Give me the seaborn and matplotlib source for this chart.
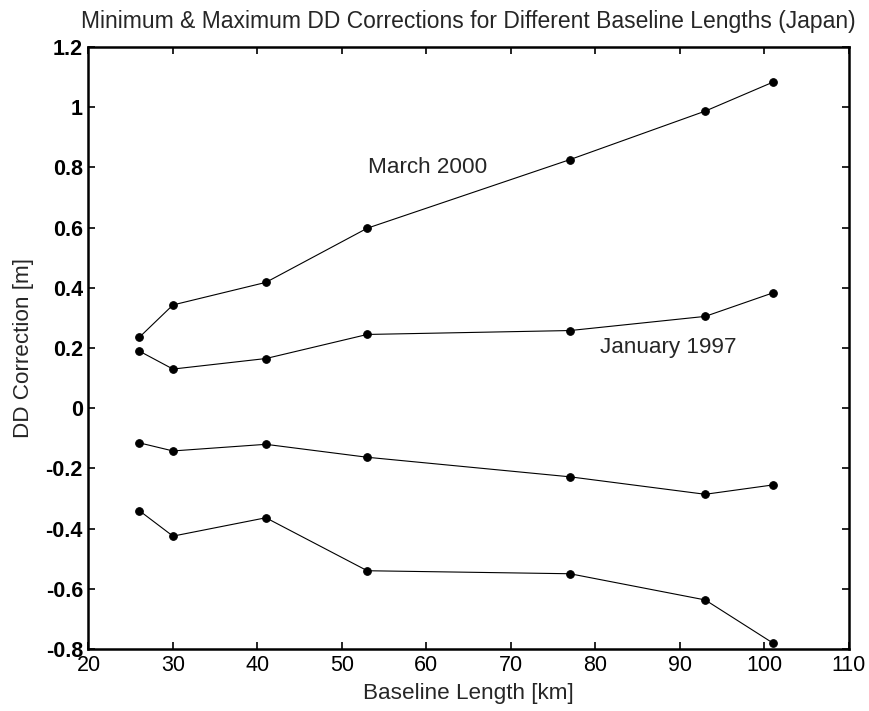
import matplotlib
matplotlib.use("Agg")
import matplotlib.pyplot as plt
import seaborn as sns
import pandas as pd

# Baseline lengths [km]
baseline_km = [26, 30, 41, 53, 77, 93, 101]

# Maximum / minimum double-difference corrections [m]
max_mar2000 = [0.235, 0.343, 0.418, 0.598, 0.826, 0.987, 1.083]
max_jan1997 = [0.190, 0.130, 0.165, 0.245, 0.258, 0.305, 0.383]
min_jan1997 = [-0.115, -0.142, -0.120, -0.163, -0.228, -0.286, -0.255]
min_mar2000 = [-0.340, -0.425, -0.364, -0.540, -0.550, -0.637, -0.780]

x_ticks = [20, 30, 40, 50, 60, 70, 80, 90, 100, 110]
y_ticks = [-0.8, -0.6, -0.4, -0.2, 0, 0.2, 0.4, 0.6, 0.8, 1, 1.2]
y_tick_labels = ["-0.8", "-0.6", "-0.4", "-0.2", "0", "0.2", "0.4", "0.6", "0.8", "1", "1.2"]

series = {
    "max_mar2000": max_mar2000,
    "max_jan1997": max_jan1997,
    "min_jan1997": min_jan1997,
    "min_mar2000": min_mar2000,
}
frames = [pd.DataFrame({"baseline": baseline_km, "dd": v, "series": k}) for k, v in series.items()]
df = pd.concat(frames, ignore_index=True)

sns.set_style("white")
plt.rcParams["font.family"] = ["Liberation Sans", "DejaVu Sans"]

fig = plt.figure(figsize=(8.69, 7.11), dpi=100)
ax = fig.add_axes([0.1018, 0.0872, 0.875, 0.8467])

for name, sub in df.groupby("series", sort=False):
    sns.lineplot(data=sub, x="baseline", y="dd", ax=ax, color="black", linewidth=0.8,
                 marker="o", markersize=5.5, markeredgecolor="black", markerfacecolor="black",
                 estimator=None, sort=False, legend=False)

ax.set_xlim(20, 110)
ax.set_ylim(-0.8, 1.2)
ax.set_xticks(x_ticks)
ax.set_xticklabels([str(t) for t in x_ticks], fontsize=15.5)
ax.set_yticks(y_ticks)
ax.set_yticklabels(y_tick_labels, fontsize=15.5, fontweight="bold")

ax.tick_params(axis="both", which="both", direction="in", length=5, width=1.2,
               top=True, right=True, bottom=True, left=True, colors="black", pad=4)
for side in ["left", "right", "top", "bottom"]:
    ax.spines[side].set_visible(True)
    ax.spines[side].set_color("black")
    ax.spines[side].set_linewidth(1.8)

ax.set_xlabel("Baseline Length [km]", fontsize=16.2, labelpad=5)
ax.set_ylabel("DD Correction [m]", fontsize=16.2, labelpad=8)
ax.set_title("Minimum & Maximum DD Corrections for Different Baseline Lengths (Japan)",
             fontsize=16.5, pad=14)

ax.text(53.1, 0.80, "March 2000", fontsize=16.2, ha="left", va="center")
ax.text(80.6, 0.20, "January 1997", fontsize=16.2, ha="left", va="center")

fig.savefig("out.png", dpi=100)
